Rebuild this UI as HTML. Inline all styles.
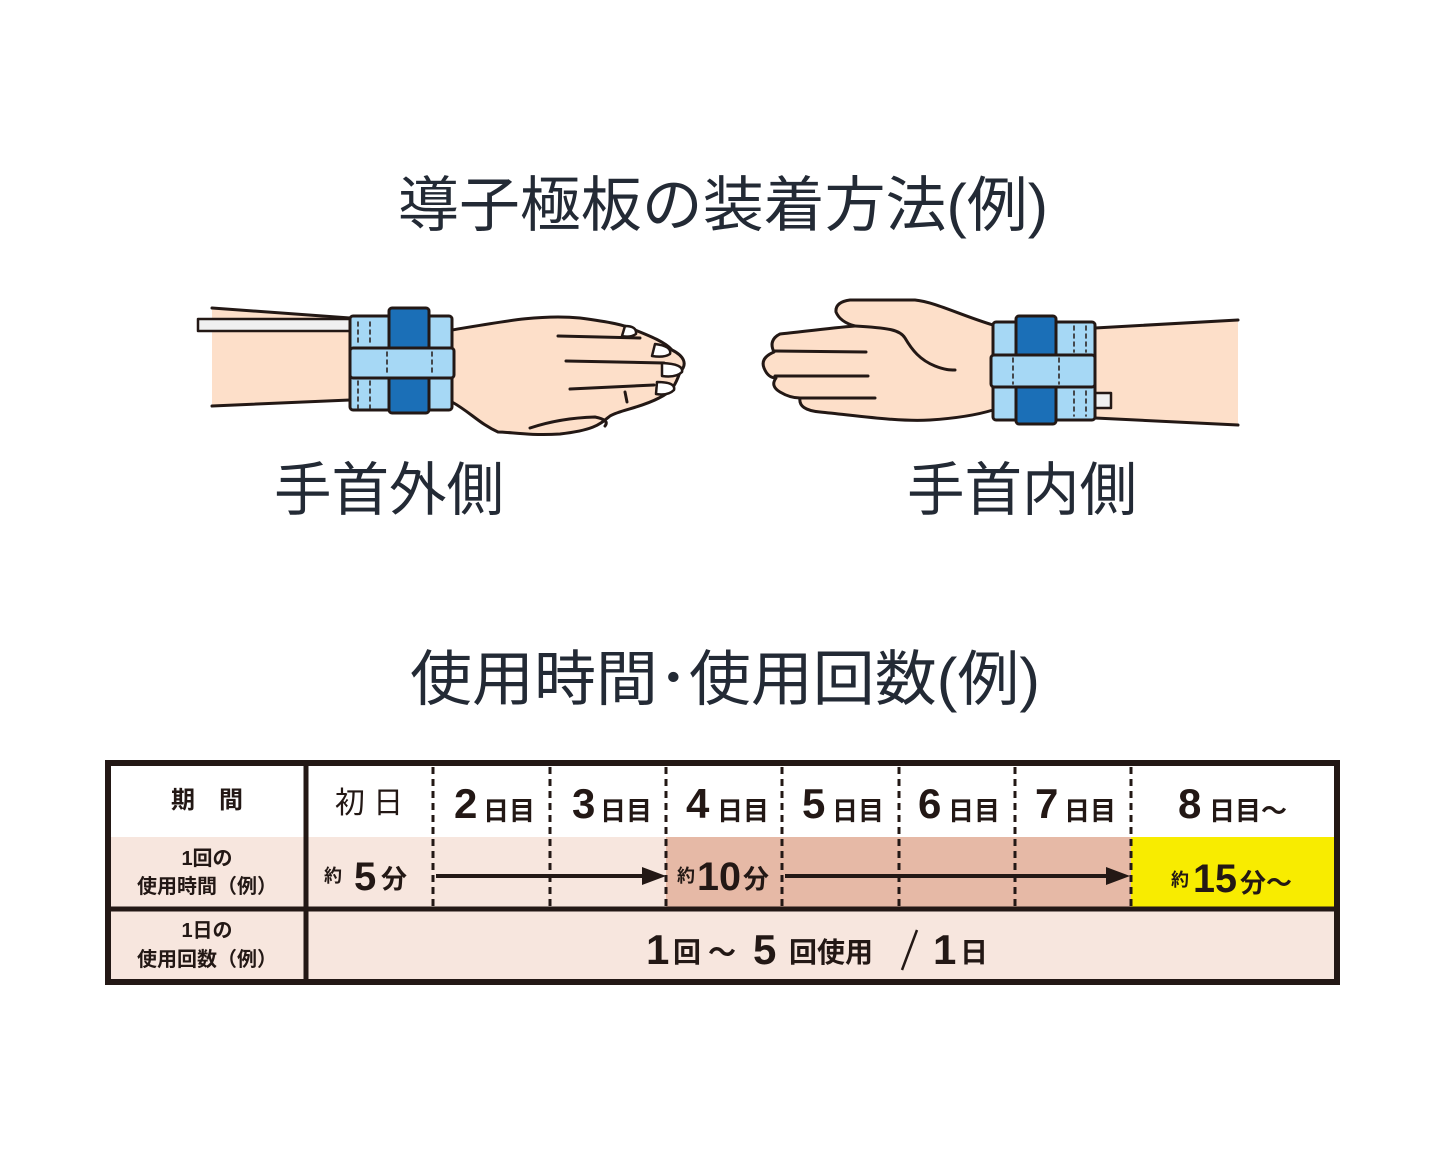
<!DOCTYPE html>
<html><head><meta charset="utf-8"><style>
html,body{margin:0;padding:0;background:#fff;}
svg{display:block;}
text{font-family:"Liberation Sans","Noto Sans CJK JP",sans-serif;}
.t{fill:#232a35;}
.b{fill:#231815;font-weight:bold;}
</style></head><body>
<svg width="1445" height="1156" viewBox="0 0 1445 1156" xmlns="http://www.w3.org/2000/svg">
<text class="t" x="398" y="226" font-size="60" textLength="650" lengthAdjust="spacingAndGlyphs">導子極板の装着方法(例)</text>

<!-- left hand -->
<g stroke="#231815" stroke-width="3" stroke-linejoin="round" stroke-linecap="round">
<path d="M212 308 L350 318 L350 400 L212 406 Z" fill="#fddfc9" stroke="none"/>
<path d="M212 308 L350 318" fill="none"/>
<path d="M212 406 L350 400" fill="none"/>
<rect x="198" y="319" width="152" height="12" fill="#f0f0f0" stroke-width="2.5"/>
<path d="M452 330 C500 322 540 314 580 318 C610 322 625 325 635 330 C650 336 665 342 672 350 C684 356 688 364 680 372 C676 384 672 392 659 398 C640 408 620 410 610 416 C600 424 595 430 560 434 C530 436 510 432 498 432 C480 424 470 412 452 402 Z" fill="#fddfc9"/>
<path d="M558 336 L640 338 M566 361 L664 363 M570 389 L654 385 M625 392 L627 402" fill="none"/>
<path d="M625 326 Q637 326 636 334 Q630 338 622 336 Z M655 344 Q672 346 670 354 Q664 358 652 356 Z M662 363 Q684 364 682 372 Q676 378 662 376 Z M657 382 Q676 382 674 390 Q668 396 656 394 Z" fill="#fff" stroke-width="2.5"/>
<path d="M530 428 Q560 418 595 417 Q610 420 605 426" fill="none"/>
<rect x="350" y="316" width="102" height="94" rx="3" fill="#a6d8f5"/>
<rect x="389" y="308" width="40" height="105" rx="3" fill="#1b6fb7"/>
<rect x="350" y="348" width="104" height="30" rx="3" fill="#a6d8f5"/>
<path d="M358 322 V345 M370 322 V345 M358 381 V408 M370 381 V408 M387 352 V374 M432 352 V374" fill="none" stroke-width="1.5" stroke-dasharray="4 4"/>
</g>

<!-- right hand -->
<g stroke="#231815" stroke-width="3" stroke-linejoin="round" stroke-linecap="round">
<path d="M1095 328 L1238 320 L1238 425 L1095 418 Z" fill="#fddfc9" stroke="none"/>
<path d="M1095 328 L1238 320 M1095 418 L1238 425" fill="none"/>
<rect x="1095" y="393" width="16" height="15" fill="#f0f0f0" stroke-width="2.5"/>
<path d="M993 325 C960 315 935 302 915 300 L850 300 Q835 302 836 312 Q840 322 855 326 C830 328 800 332 780 334 Q768 340 774 352 Q760 358 764 368 Q768 378 776 378 Q770 386 780 392 Q790 398 800 398 Q798 410 820 412 C860 416 900 422 930 420 C960 418 980 414 993 410 Z" fill="#fddfc9"/>
<path d="M855 326 C890 328 900 330 905 338 C912 350 920 360 935 366 C945 370 950 370 955 370" fill="none"/>
<path d="M775 351 L866 352 M775 376 L868 376 M800 398 L875 398" fill="none"/>
<rect x="993" y="322" width="102" height="98" rx="3" fill="#a6d8f5"/>
<rect x="1016" y="316" width="40" height="108" rx="3" fill="#1b6fb7"/>
<rect x="991" y="355" width="104" height="32" rx="3" fill="#a6d8f5"/>
<path d="M1074 326 V352 M1086 326 V352 M1074 391 V416 M1086 391 V416 M1013 358 V384 M1059 358 V384" fill="none" stroke-width="1.5" stroke-dasharray="4 4"/>
</g>

<text class="t" x="274" y="510" font-size="58" textLength="230" lengthAdjust="spacingAndGlyphs">手首外側</text>
<text class="t" x="907" y="510" font-size="58" textLength="230" lengthAdjust="spacingAndGlyphs">手首内側</text>

<text class="t" x="410" y="700" font-size="60" textLength="630" lengthAdjust="spacingAndGlyphs">使用時間･使用回数(例)</text>

<!-- table -->
<rect x="108" y="837" width="1229" height="72" fill="#f7e6de"/>
<rect x="666" y="837" width="465" height="72" fill="#e6b9a6"/>
<rect x="1131" y="837" width="203" height="72" fill="#f8ec00"/>
<rect x="108" y="909" width="1229" height="72" fill="#f7e6de"/>
<rect x="108" y="763" width="1229" height="219" fill="none" stroke="#231815" stroke-width="6"/>
<line x1="306" y1="763" x2="306" y2="982" stroke="#231815" stroke-width="5"/>
<line x1="108" y1="909" x2="1337" y2="909" stroke="#231815" stroke-width="5"/>
<g stroke="#231815" stroke-width="3" stroke-dasharray="7 5">
<line x1="433" y1="767" x2="433" y2="907"/>
<line x1="550" y1="767" x2="550" y2="907"/>
<line x1="666" y1="767" x2="666" y2="907"/>
<line x1="782" y1="767" x2="782" y2="907"/>
<line x1="899" y1="767" x2="899" y2="907"/>
<line x1="1015" y1="767" x2="1015" y2="907"/>
<line x1="1131" y1="767" x2="1131" y2="907"/>
</g>
<g stroke="#231815" stroke-width="4">
<line x1="436" y1="876" x2="644" y2="876"/>
<line x1="785" y1="876" x2="1108" y2="876"/>
</g>
<path d="M642 867 L666 876 L642 885 Z M1106 867 L1130 876 L1106 885 Z" fill="#231815"/>

<text class="b" x="207" y="808" font-size="24" text-anchor="middle">期　間</text>
<text class="b" x="207" y="865" font-size="20" text-anchor="middle">1回の</text>
<text class="b" x="207" y="893" font-size="20" text-anchor="middle">使用時間（例）</text>
<text class="b" x="207" y="937" font-size="20" text-anchor="middle">1日の</text>
<text class="b" x="207" y="966" font-size="20" text-anchor="middle">使用回数（例）</text>

<text x="369" y="813" font-size="30" text-anchor="middle" fill="#231815">初 日</text>
<g class="b">
<text x="454" y="818" font-size="42">2</text><text x="483" y="820" font-size="26">日目</text>
<text x="572" y="818" font-size="42">3</text><text x="600" y="820" font-size="26">日目</text>
<text x="686" y="818" font-size="42">4</text><text x="717" y="820" font-size="26">日目</text>
<text x="802" y="818" font-size="42">5</text><text x="832" y="820" font-size="26">日目</text>
<text x="918" y="818" font-size="42">6</text><text x="948" y="820" font-size="26">日目</text>
<text x="1035" y="818" font-size="42">7</text><text x="1064" y="820" font-size="26">日目</text>
<text x="1178" y="818" font-size="42">8</text><text x="1209" y="820" font-size="26">日目～</text>

<text x="324" y="882" font-size="18">約</text><text x="354" y="890" font-size="40">5</text><text x="381" y="888" font-size="26">分</text>
<text x="677" y="882" font-size="18">約</text><text x="697" y="890" font-size="40" textLength="44" lengthAdjust="spacingAndGlyphs">10</text><text x="743" y="888" font-size="26">分</text>
<text x="1171" y="886" font-size="18">約</text><text x="1193" y="892" font-size="40" textLength="44" lengthAdjust="spacingAndGlyphs">15</text><text x="1240" y="892" font-size="26">分～</text>

<text x="646" y="964" font-size="42">1</text><text x="673" y="962" font-size="28">回</text><text x="708" y="962" font-size="28">～</text>
<text x="753" y="964" font-size="42">5</text><text x="789" y="962" font-size="28">回使用</text>
<text x="933" y="964" font-size="42">1</text><text x="960" y="962" font-size="28">日</text>
</g>
<line x1="917" y1="930" x2="902" y2="970" stroke="#231815" stroke-width="2.5"/>
</svg>
</body></html>
